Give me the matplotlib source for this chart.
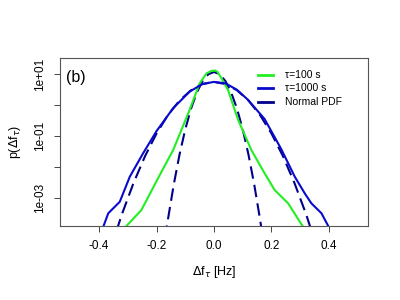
import numpy as np
import matplotlib
matplotlib.use("Agg")
import matplotlib.pyplot as plt

plt.rcParams['font.family'] = ['Liberation Sans', 'DejaVu Sans']

tau100_x = [-0.315, -0.253, -0.189, -0.142, -0.085, -0.05, -0.026, -0.009, 0.005,
            0.012, 0.03, 0.049, 0.084, 0.13, 0.176, 0.211, 0.258, 0.315]
tau100_log = [-4.0, -3.39, -2.26, -1.45, -0.16, 0.7, 1.02, 1.1, 1.11,
              1.07, 0.8, 0.48, -0.48, -1.45, -2.2, -2.74, -3.17, -4.0]

tau1000_x = [-0.39, -0.384, -0.368, -0.328, -0.293, -0.247, -0.2, -0.142, -0.085,
             -0.04, 0.0, 0.04, 0.08, 0.118, 0.176, 0.234, 0.281, 0.316, 0.339,
             0.374, 0.397, 0.40]
tau1000_log = [-4.1, -3.89, -3.49, -3.12, -2.31, -1.56, -0.84, -0.1, 0.43,
               0.68, 0.745, 0.7, 0.49, 0.17, -0.45, -1.42, -2.31, -2.85, -3.17,
               -3.49, -3.89, -4.0]

# normal fits
norm100_x = [-0.17, -0.16, -0.14, -0.12, -0.10, -0.08, -0.06, -0.04, -0.02, 0.0,
             0.02, 0.04, 0.06, 0.08, 0.10, 0.12, 0.14, 0.16, 0.17]
norm100_log = [-4.282, -3.671, -2.561, -1.599, -0.785, -0.119, 0.399, 0.769, 0.991, 1.065,
               0.991, 0.769, 0.399, -0.119, -0.785, -1.599, -2.561, -3.671, -4.282]

norm1000_x = [-0.36, -0.32, -0.28, -0.24, -0.20, -0.16, -0.12, -0.08, -0.04, 0.0,
              0.04, 0.08, 0.12, 0.16, 0.20, 0.24, 0.28, 0.32, 0.36]
norm1000_log = [-4.636, -3.508, -2.512, -1.648, -0.918, -0.320, 0.144, 0.476, 0.676, 0.742,
                0.676, 0.476, 0.144, -0.320, -0.918, -1.648, -2.512, -3.508, -4.636]

legend_labels = ['\u03c4=100 s', '\u03c4=1000 s', 'Normal PDF']

green = '#22ee22'
blue = '#0a0acd'
navy = '#00008b'

fig = plt.figure(figsize=(4, 3), dpi=100)
ax = fig.add_axes([0.15, 0.2467, 0.77, 0.56])

ax.plot(norm1000_x, np.power(10.0, norm1000_log), color=navy, lw=1.5, dashes=(6.0, 3.0))
ax.plot(norm100_x, np.power(10.0, norm100_log), color=navy, lw=1.5, dashes=(6.0, 3.0))
ax.plot(tau100_x, np.power(10.0, tau100_log), color=green, lw=1.5)
ax.plot(tau1000_x, np.power(10.0, tau1000_log), color=blue, lw=1.5)

ax.set_yscale('log')
ax.set_xlim(-0.536, 0.536)
ax.set_ylim(10 ** -3.9, 10 ** 1.516)

ax.set_xticks([-0.4, -0.2, 0.0, 0.2, 0.4])
ax.set_xticklabels(['-0.4', '-0.2', '0.0', '0.2', '0.4'])
ax.set_yticks([1e1, 1e0, 1e-1, 1e-2, 1e-3])
ax.set_yticklabels(['1e+01', '', '1e-01', '', '1e-03'], rotation=90, va='center')
ax.yaxis.set_minor_locator(plt.NullLocator())
ax.tick_params(axis='both', length=4, width=0.7, labelsize=8.5, color='#444444', pad=6)

for s in ax.spines.values():
    s.set_color('#555555')
    s.set_linewidth(0.8)

ax.set_xlabel(r'$\Delta$f$_\tau$ [Hz]', fontsize=9, labelpad=9)
ax.set_ylabel(r'p($\Delta$f$_\tau$)', fontsize=9, labelpad=8)
ax.text(0.02, 0.93, '(b)', transform=ax.transAxes, fontsize=11.5, va='top', ha='left')

# legend drawn by hand, no box
leg_colors = [green, blue, navy]
leg_rows = [0.899, 0.821, 0.738]
for lab, col, yy in zip(legend_labels, leg_colors, leg_rows):
    ax.plot([0.643, 0.692], [yy, yy], color=col, lw=2, transform=ax.transAxes)
    ax.text(0.731, yy, lab, transform=ax.transAxes, fontsize=7.5, va='center', ha='left')

fig.savefig('out.png', dpi=100)
